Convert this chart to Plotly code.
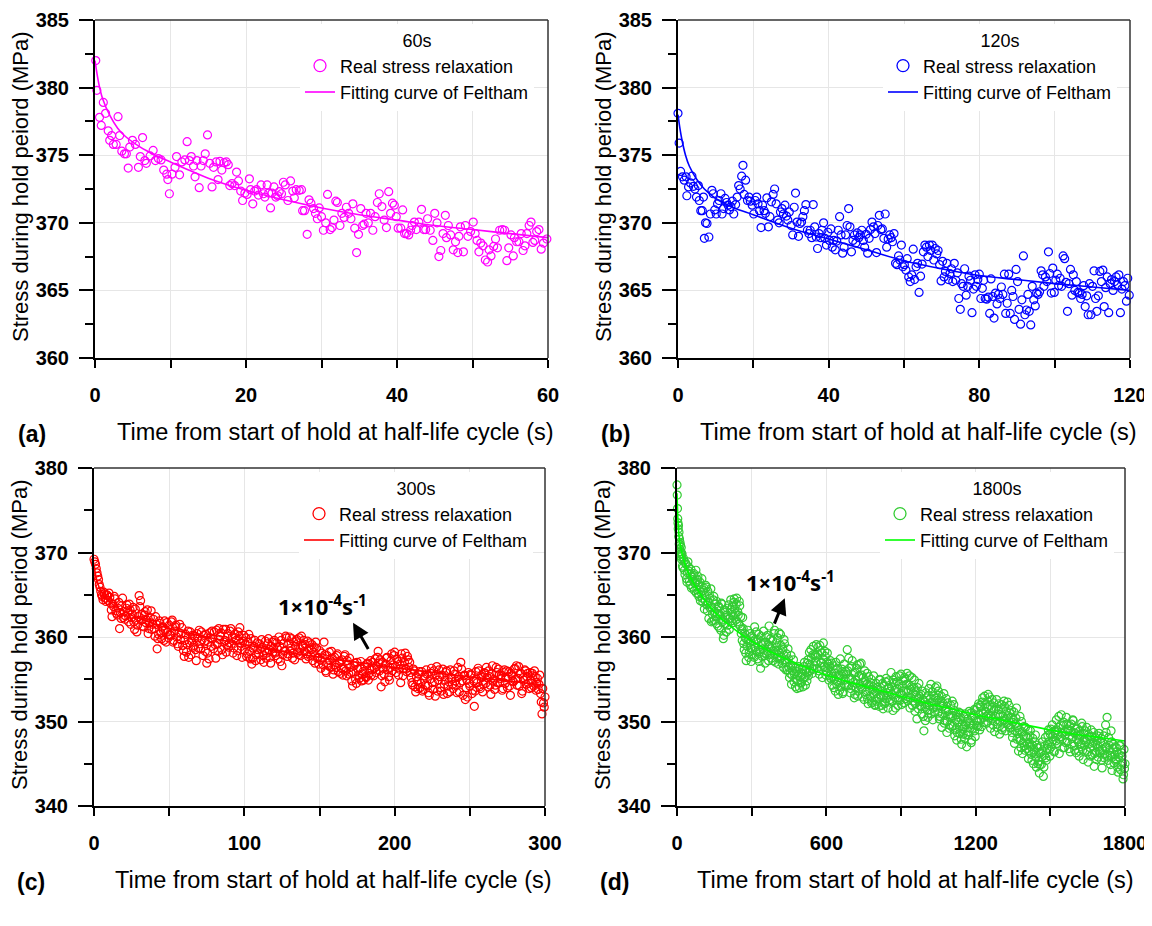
import plotly.graph_objects as go

# page is 1152x926; the html body has an 8 px margin, so the figure is 8 px smaller
PAGE_W, PAGE_H, OFF = 1152, 926, 8
W, H = PAGE_W - OFF, PAGE_H - OFF

# ---------------- data ----------------
# (a) 60 s hold
ta = [0.1,0.24,0.6,0.83,1.1,1.4,1.75,1.95,2.2,2.43,2.8,3.05,3.26,3.55,3.9,4.15,4.4,4.6,4.96,5.35,5.75,6.0,6.3,6.6,6.8,7.3,7.7,8.0,8.4,8.75,9.1,9.5,9.65,9.85,10.2,10.6,10.8,11.2,11.5,11.9,12.2,12.5,12.75,13.05,13.25,13.5,13.8,14.05,14.35,14.6,14.9,15.2,15.5,15.7,16.05,16.3,16.55,16.8,17.1,17.4,17.65,17.85,18.15,18.5,18.75,19.0,19.3,19.55,19.85,20.15,20.45,20.6,20.9,21.15,21.4,21.65,22.0,22.3,22.5,22.8,23.0,23.25,23.45,23.7,23.95,24.2,24.4,24.7,24.95,25.2,25.55,25.9,26.2,26.4,26.65,27.05,27.35,27.5,27.75,28.1,28.35,28.6,28.95,29.2,29.45,29.7,30.0,30.25,30.55,30.8,31.15,31.4,31.65,31.9,32.1,32.45,32.7,33.0,33.3,33.6,33.9,34.15,34.4,34.65,34.9,35.2,35.45,35.65,35.9,36.2,36.5,36.8,37.1,37.4,37.65,38.0,38.3,38.6,38.9,39.15,39.4,39.65,39.9,40.15,40.5,40.75,41.0,41.25,41.55,41.8,42.0,42.3,42.55,42.9,43.25,43.55,43.8,44.05,44.4,44.75,45.0,45.3,45.55,45.8,46.1,46.4,46.55,46.8,47.1,47.45,47.75,48.05,48.2,48.4,48.8,49.05,49.4,49.75,50.1,50.35,50.6,50.85,51.1,51.4,51.7,52.0,52.2,52.45,52.8,53.05,53.3,53.6,53.95,54.25,54.55,54.8,55.1,55.4,55.55,55.85,56.15,56.45,56.7,56.95,57.2,57.5,57.75,58.0,58.25,58.5,58.8,59.1,59.4,59.85]
sa = [382.0,379.8,377.8,377.2,378.9,378.1,376.8,376.1,376.45,375.8,375.8,377.85,376.45,375.3,375.1,375.1,374.05,375.6,376.1,375.8,374.1,374.9,376.3,374.6,374.4,374.95,375.35,374.6,374.75,374.65,373.9,373.6,373.2,372.15,373.6,374.1,374.9,373.55,374.5,374.65,376.0,374.6,374.9,374.2,373.4,374.6,372.6,374.2,374.6,375.1,376.5,374.4,372.65,374.1,374.5,373.2,374.55,373.9,374.45,374.5,374.3,372.75,372.9,372.75,373.75,373.1,372.35,371.65,372.2,372.1,373.25,372.45,371.4,372.35,372.45,372.05,372.8,372.15,371.9,372.8,372.2,371.1,372.2,372.65,371.9,372.0,372.3,372.15,373.0,372.8,371.65,373.1,372.35,371.85,372.45,372.4,372.45,370.9,370.9,369.15,371.7,371.45,371.05,370.7,370.3,371.1,370.45,369.45,370.0,372.1,369.5,369.65,370.2,371.6,371.5,369.8,370.7,370.4,371.15,370.7,370.3,371.4,369.6,367.8,369.15,371.05,369.8,369.9,370.7,370.0,370.7,369.45,370.45,371.5,372.15,371.2,370.2,369.65,372.3,370.7,371.45,371.3,370.45,369.6,369.6,370.95,369.2,369.2,369.1,369.45,369.8,370.05,369.5,370.05,371.0,369.5,369.5,370.3,369.45,368.7,370.7,370.0,367.5,367.95,369.2,370.55,368.9,369.8,369.1,368.0,368.6,367.8,369.0,369.7,367.85,369.8,369.0,369.35,370.05,369.2,368.7,367.85,368.5,368.3,367.25,367.1,368.0,367.55,368.25,368.8,368.15,369.45,369.5,369.45,367.2,368.15,369.1,367.55,368.9,368.6,368.6,369.2,367.95,368.3,369.2,369.8,370.05,368.55,368.7,369.35,369.5,368.05,368.5,368.8]
fit_ta = [0, 0.5, 1, 2, 3, 4, 6, 8, 10, 12, 15, 20, 25, 30, 35, 40, 45, 50, 55, 60]
fit_sa = [382.0, 380.3, 379.2, 377.9, 377.0, 376.4, 375.6, 375.0, 374.5, 374.0, 373.3, 372.4, 371.7, 371.1, 370.6, 370.2, 369.8, 369.5, 369.2, 368.9]

# (b) 120 s hold
tb = [0,0.3,0.7,1.2,1.65,2.15,2.35,2.8,3.3,3.7,4.1,4.5,4.9,5.4,5.65,6.05,6.45,6.75,7.0,7.3,7.7,8.2,8.6,9.0,9.35,9.75,10.15,10.5,10.9,11.4,11.7,12.1,12.5,12.9,13.3,13.65,14.05,14.45,14.8,15.3,15.7,16.1,16.5,16.9,17.25,17.55,17.95,18.45,18.85,19.2,19.7,20.1,20.5,20.9,21.25,21.65,22.05,22.45,22.85,23.2,23.6,24.0,24.4,24.8,25.25,25.65,26.05,26.45,26.85,27.2,27.6,28.0,28.4,28.8,29.15,29.55,30.05,30.45,30.85,31.2,31.6,32.0,32.4,32.8,33.15,33.55,33.95,34.35,34.75,35.1,35.5,35.9,36.3,36.7,37.05,37.45,37.85,38.25,38.65,39.0,39.4,39.8,40.2,40.6,40.95,41.35,41.75,42.15,42.55,42.9,43.3,43.7,44.1,44.5,44.9,45.3,45.65,46.05,46.45,46.85,47.2,47.6,48.0,48.4,48.8,49.2,49.55,49.95,50.35,50.75,51.1,51.5,51.9,52.3,52.7,53.05,53.45,53.85,54.25,54.65,55.0,55.4,55.8,56.2,56.6,56.95,57.35,57.75,58.15,58.55,58.9,59.3,59.7,60.1,60.5,60.85,61.25,61.65,62.05,62.45,62.8,63.2,63.6,64.0,64.4,64.8,65.15,65.55,65.95,66.35,66.75,67.1,67.5,67.9,68.3,68.7,69.05,69.45,69.85,70.25,70.65,71.0,71.4,71.8,72.2,72.6,72.95,73.35,73.75,74.15,74.55,74.95,75.3,75.7,76.1,76.5,76.9,77.25,77.65,78.05,78.45,78.85,79.2,79.6,80.0,80.4,80.8,81.15,81.55,81.95,82.35,82.75,83.1,83.5,83.9,84.3,84.7,85.05,85.45,85.85,86.25,86.65,87.0,87.4,87.8,88.2,88.6,88.95,89.35,89.75,90.15,90.55,90.95,91.3,91.7,92.1,92.5,92.9,93.25,93.65,94.05,94.45,94.85,95.2,95.6,96.0,96.4,96.8,97.15,97.55,97.95,98.35,98.7,99.1,99.5,99.9,100.3,100.7,101.05,101.45,101.85,102.25,102.65,103.0,103.4,103.8,104.2,104.6,104.95,105.35,105.75,106.15,106.55,106.9,107.3,107.7,108.1,108.5,108.9,109.25,109.65,110.05,110.45,110.85,111.2,111.6,112.0,112.4,112.8,113.15,113.55,113.95,114.35,114.75,115.1,115.5,115.9,116.3,116.7,117.05,117.45,117.85,118.25,118.65,119.05,119.4,119.8]
sb = [378.1,375.9,373.8,373.4,373.15,373.4,372.0,372.65,372.95,373.45,372.7,372.5,371.9,372.75,371.65,370.9,370.9,371.9,368.85,370.0,369.95,368.95,370.65,372.4,372.15,370.95,370.65,371.4,371.65,372.15,370.65,371.05,371.8,371.5,371.3,370.95,371.2,371.6,370.65,371.35,371.9,372.75,372.5,373.45,374.25,372.1,373.15,371.65,371.9,371.6,371.3,370.65,371.65,371.9,371.4,370.9,369.65,371.3,370.9,370.7,371.85,369.7,370.45,371.55,372.1,372.5,371.4,370.2,370.0,370.8,371.05,370.65,371.3,370.5,370.2,370.8,369.8,369.1,371.15,372.2,370.05,369.0,369.95,370.05,370.45,370.9,371.35,369.45,369.2,369.45,368.9,371.35,369.7,368.95,368.1,369.2,368.9,369.45,370.0,368.85,368.35,369.3,368.7,369.55,368.2,368.7,368.0,368.65,369.45,370.45,369.1,367.75,368.2,369.1,369.8,371.05,369.7,367.85,368.7,369.1,368.5,369.25,368.9,369.1,369.45,368.7,368.2,369.15,367.75,368.85,369.5,370.05,369.7,369.2,367.8,369.8,370.55,369.5,369.55,368.85,370.65,368.2,368.8,369.1,368.9,368.6,369.2,367.0,366.9,367.55,367.25,368.35,366.75,366.9,366.5,367.35,366.0,365.65,366.15,368.05,365.8,366.75,367.0,364.85,366.05,366.95,367.85,368.35,368.2,367.5,368.35,367.95,368.35,367.25,368.1,367.7,367.95,366.9,365.7,367.15,366.0,366.4,367.0,365.8,366.25,366.6,365.65,367.0,365.75,366.3,364.4,363.6,365.5,365.3,366.6,364.65,365.3,366.05,365.75,363.35,365.1,366.15,365.3,365.8,366.2,364.4,365.15,365.75,364.4,364.35,364.5,363.3,365.85,364.55,362.95,364.8,364.0,364.7,364.4,365.25,364.7,366.2,363.3,364.05,366.2,363.3,365.0,364.55,362.85,366.55,365.65,363.6,362.5,364.3,367.55,363.2,363.55,364.7,363.45,362.45,365.3,364.3,363.85,364.8,364.7,364.9,366.45,366.15,365.3,366.0,365.65,367.85,366.25,364.8,366.65,364.85,365.75,366.2,365.35,365.9,365.3,367.55,367.35,365.6,363.45,365.5,366.55,364.65,366.15,365.0,365.65,364.85,364.8,364.4,364.7,365.35,363.8,364.6,363.2,365.5,363.2,365.3,366.45,364.4,363.45,364.6,366.4,365.65,366.5,363.8,365.2,366.0,363.35,365.5,365.8,365.0,365.65,366.0,365.4,366.15,363.35,365.1,365.65,365.35,364.2,365.9,364.65]
fit_tb = [0, 0.5, 1, 2, 3, 5, 7, 10, 15, 20, 30, 40, 50, 60, 70, 80, 90, 100, 110, 120]
fit_sb = [378.0, 377.0, 376.2, 375.0, 374.2, 373.2, 372.5, 371.8, 371.1, 370.6, 369.6, 368.8, 368.0, 367.2, 366.6, 366.1, 365.8, 365.5, 365.25, 365.0]

# (c) 300 s hold: readings on whole seconds and on half seconds
tc = list(range(0, 301))
sc = [369.2,368.6,367.6,366.8,365.9,365.0,364.4,365.1,364.2,364.9,
      365.2,364.0,362.4,363.6,364.5,362.8,363.4,361.0,362.2,364.6,
      363.0,362.5,363.8,361.8,363.2,362.3,363.5,360.9,362.0,361.4,
      364.9,364.3,362.7,361.2,363.0,362.0,360.4,361.7,363.1,361.5,
      361.0,362.4,358.6,360.3,361.6,359.8,360.8,361.9,359.4,360.6,
      361.4,360.2,362.0,359.6,361.2,360.0,358.9,361.5,360.4,359.0,
      357.7,360.3,359.1,357.6,360.6,359.5,358.8,360.1,357.2,359.9,
      360.8,358.6,359.7,360.2,358.3,356.9,359.4,360.5,358.9,359.8,
      360.6,357.5,359.2,361.0,360.1,358.5,360.9,359.6,358.2,360.4,
      359.3,361.0,360.0,358.7,359.9,357.8,360.6,361.1,358.9,359.5,
      358.4,359.9,358.0,360.3,357.4,356.8,358.7,359.6,357.9,358.5,
      359.2,357.3,358.8,357.0,359.5,358.1,359.8,357.6,358.9,358.2,
      359.6,357.8,358.6,360.0,357.1,356.6,359.2,358.4,359.9,358.0,
      360.0,358.7,357.5,359.4,358.9,359.7,357.9,358.6,360.1,359.0,
      358.3,357.4,359.5,358.6,357.8,359.1,358.2,356.9,358.7,357.6,
      358.4,356.3,357.5,359.4,356.0,357.8,356.6,357.2,358.3,355.6,
      357.6,356.4,358.0,356.9,355.7,357.3,356.2,357.9,355.4,356.8,
      357.5,355.8,354.2,356.6,355.0,357.0,355.5,356.3,354.8,355.9,
      356.6,355.2,356.9,355.7,357.2,356.1,355.4,357.4,356.5,358.3,
      356.0,354.1,357.0,355.6,356.8,357.6,355.3,356.4,358.0,356.7,
      358.2,355.8,357.1,356.2,354.6,357.5,356.3,358.1,355.9,357.3,
      357.0,355.2,354.3,356.0,353.5,354.8,355.6,354.0,355.9,353.8,
      355.4,356.1,354.2,353.1,355.7,354.6,356.0,353.0,356.5,354.9,
      355.3,353.6,356.2,354.4,355.8,353.3,354.7,356.1,355.0,353.9,
      355.6,354.3,356.4,353.5,357.0,354.8,355.4,352.6,354.9,355.8,
      354.2,355.5,353.7,351.8,355.9,354.6,356.0,353.9,355.2,354.4,
      355.7,356.4,354.1,355.3,353.2,356.6,355.0,354.3,355.8,356.2,
      354.6,355.5,353.9,356.1,355.2,354.0,355.9,353.1,355.4,354.7,
      356.3,356.6,355.1,354.2,355.7,353.6,354.9,356.0,355.3,354.5,
      355.8,354.0,355.4,356.0,353.7,355.1,354.4,353.3,350.9,352.2,
      352.9]
tc2 = [i + 0.5 for i in range(0, 300)]
sc2 = [368.9,368.1,367.2,366.2,365.4,364.8,365.3,364.6,365.0,364.3,
       364.7,363.2,363.9,364.8,363.1,362.6,364.1,362.9,363.7,362.3,
       362.1,363.4,362.8,363.9,361.5,362.7,361.8,363.3,360.6,362.4,
       363.6,362.0,361.3,362.6,361.7,363.2,361.0,362.3,360.9,362.1,
       360.1,361.5,359.8,361.9,360.5,361.2,359.6,360.9,361.7,359.9,
       360.3,361.8,359.4,360.7,361.4,359.2,360.5,359.7,361.1,358.4,
       359.6,358.2,360.7,359.3,357.9,360.2,359.0,358.5,360.4,358.7,
       359.2,360.6,357.8,359.5,360.3,358.1,357.4,359.9,360.7,358.6,
       359.1,360.8,358.3,359.7,360.5,357.9,359.4,360.9,359.0,358.8,
       360.7,359.2,358.1,360.3,359.6,358.4,360.1,359.3,357.6,360.2,
       359.1,357.7,359.4,358.3,359.8,357.5,358.9,357.2,359.3,358.0,
       358.6,359.7,357.8,358.4,357.5,359.2,358.5,356.9,359.4,358.7,
       358.1,359.3,357.4,358.9,359.6,357.9,358.3,360.1,357.7,359.2,
       358.4,359.8,358.1,357.3,359.5,358.2,359.9,357.8,358.9,359.6,
       359.1,358.0,357.7,359.3,358.5,357.2,358.8,359.4,357.5,356.8,
       357.3,358.1,356.7,357.9,355.8,356.9,358.2,356.4,357.5,356.1,
       356.7,357.8,355.9,357.1,356.3,355.5,357.7,356.0,357.2,355.6,
       356.4,354.8,355.9,356.9,354.5,356.2,355.1,357.1,355.6,354.9,
       355.3,356.8,354.9,356.2,355.5,357.0,356.3,355.8,357.6,356.9,
       357.3,355.4,356.3,354.7,357.5,356.1,354.9,357.2,356.0,357.8,
       356.5,357.4,355.5,356.8,358.0,355.4,357.0,356.2,357.7,356.4,
       355.8,354.6,356.2,354.1,355.3,353.9,355.9,354.5,353.6,355.0,
       354.3,355.6,353.4,355.0,356.3,353.8,354.7,355.5,353.6,356.1,
       354.0,355.5,353.2,354.9,356.0,354.2,353.5,355.2,354.4,356.0,
       354.8,353.4,355.3,354.6,356.2,353.1,355.5,354.0,352.9,354.5,
       355.6,353.3,354.8,353.6,355.0,356.3,354.1,355.4,353.5,355.8,
       354.5,355.2,356.0,354.3,355.6,354.8,353.8,356.4,354.6,355.5,
       355.1,353.7,355.8,354.5,356.0,355.3,354.2,355.7,354.8,356.2,
       355.0,354.3,356.5,355.6,353.3,355.2,356.1,354.4,355.7,353.9,
       354.9,355.7,354.2,355.3,354.6,353.8,355.5,352.3,353.9,351.7]
fit_tc = [0, 2, 5, 10, 20, 30, 50, 75, 100, 125, 150, 175, 200, 225, 250, 275, 300]
fit_sc = [368.5, 366.6, 365.3, 364.2, 363.0, 362.2, 361.0, 360.0, 359.1, 358.3, 357.6, 357.0, 356.4, 355.8, 355.3, 354.8, 354.3]

# (d) 1800 s hold: first 20 s every second, then two interleaved 4 s sets
td = list(range(0, 20)) + list(range(20, 1801, 4))
sd = [378.0,376.8,375.2,374.0,373.5,372.8,373.2,371.9,372.4,371.0,
      371.6,370.4,371.2,369.8,370.9,370.1,369.5,370.6,369.2,369.9,
      369.8,368.2,369.0,367.4,368.6,366.5,368.9,367.8,366.2,368.0,367.1,365.9,367.5,366.4,367.9,
      365.6,367.2,364.8,366.5,365.3,366.9,364.1,365.8,364.9,366.1,363.8,365.4,362.2,364.6,365.7,
      363.5,361.9,364.8,363.0,362.4,364.2,361.3,363.6,362.7,360.8,363.9,362.1,360.2,362.9,361.6,
      362.6,361.4,363.8,362.2,364.4,362.9,361.7,364.1,363.3,362.0,364.6,363.0,361.5,363.7,362.4,
      360.9,362.3,359.2,360.4,358.1,359.7,360.8,357.6,359.3,358.7,360.1,357.9,359.5,361.2,358.4,
      359.6,357.4,360.3,358.2,356.3,359.1,358.6,360.7,357.8,359.4,358.0,360.2,357.2,358.9,359.8,
      357.5,359.6,358.3,360.8,357.0,358.8,359.9,356.8,358.1,360.3,357.6,358.7,356.4,359.2,357.3,
      358.0,356.1,357.4,355.2,356.7,354.4,356.0,357.3,355.6,354.1,355.9,354.8,356.5,354.0,355.3,
      354.6,356.2,355.1,357.0,354.3,355.8,356.9,355.4,358.2,356.0,357.5,355.7,358.9,356.6,357.8,
      359.1,356.3,357.9,355.6,358.4,357.0,355.2,359.3,356.5,357.7,355.9,358.1,356.8,355.4,357.2,
      355.8,354.3,356.6,355.0,353.6,356.2,354.7,353.2,355.5,357.4,354.1,355.9,353.5,356.8,354.9,
      355.6,358.5,354.2,356.3,353.4,355.1,357.2,354.6,352.8,355.8,354.0,356.7,353.7,355.3,354.4,
      356.9,353.9,355.2,352.6,354.8,353.5,355.7,352.1,354.3,353.0,355.0,352.4,354.1,353.3,351.9,
      354.5,352.7,353.8,351.8,354.9,352.9,353.6,351.5,354.2,352.3,355.1,353.4,351.6,354.0,352.6,
      355.8,353.2,351.3,354.6,352.8,355.3,353.9,351.9,354.4,352.5,355.6,353.1,354.8,352.2,355.0,
      353.6,355.7,352.9,354.3,351.6,353.8,355.2,352.4,354.0,351.2,353.5,350.3,352.7,354.5,351.9,
      353.2,350.9,352.6,348.9,351.7,353.4,352.0,350.5,353.9,351.4,354.4,352.3,350.2,353.0,351.1,
      352.8,354.2,351.0,353.1,350.6,352.4,349.3,351.8,353.3,350.1,351.5,348.7,352.2,350.8,349.6,
      351.9,349.4,350.7,352.0,348.3,350.2,347.8,349.9,351.1,348.6,350.4,347.3,349.1,350.6,348.0,
      349.6,347.0,350.3,348.4,349.8,351.0,347.8,349.2,350.7,348.9,351.3,349.5,350.1,352.1,349.0,
      351.7,349.4,352.8,350.5,353.0,351.2,349.8,352.4,350.9,352.9,349.2,351.5,350.3,352.2,348.8,
      350.6,352.6,349.7,351.4,348.5,350.8,352.0,349.3,350.1,351.8,348.9,350.4,352.3,349.6,351.0,
      349.2,351.3,348.1,350.2,347.4,349.7,351.6,348.6,346.5,349.0,347.7,350.0,346.2,348.3,347.1,
      349.3,346.8,348.0,345.6,347.5,348.9,346.1,347.2,345.0,346.6,348.4,344.6,346.9,345.3,343.9,
      346.3,344.9,347.6,343.5,346.0,348.1,345.4,347.3,349.0,346.7,348.5,347.0,349.6,347.8,346.4,
      348.7,350.2,347.4,349.3,346.2,348.2,350.8,347.9,349.5,346.9,348.8,350.5,347.6,349.1,348.3,
      346.4,349.7,348.0,350.1,347.1,348.6,346.3,349.2,347.6,345.9,348.4,347.0,349.4,345.5,347.8,
      348.9,346.6,347.9,345.2,348.2,346.9,349.0,346.1,347.5,344.7,348.1,346.4,347.7,345.8,348.6,
      346.3,348.0,344.5,347.4,345.7,346.9,348.7,350.5,345.4,347.2,346.0,348.9,344.2,346.8,345.1,
      347.0,345.3,346.4,344.0,346.1,347.2,344.8,345.9,343.2,346.7,345.0]
td2 = list(range(22, 1799, 4))
sd2 = [368.4,369.3,367.9,368.8,366.9,367.6,368.3,366.6,367.4,365.8,366.8,367.3,365.5,366.3,365.2,
       366.8,365.1,366.2,364.3,365.9,364.6,365.5,363.3,364.3,365.9,363.1,364.0,365.0,363.4,361.8,
       362.7,364.4,362.0,363.9,361.6,362.8,363.5,361.1,362.5,364.0,361.8,359.8,363.2,362.3,360.6,
       363.4,362.1,360.9,363.2,361.9,363.6,362.5,364.5,362.8,363.9,361.8,362.6,364.2,361.3,360.4,
       359.6,361.0,358.5,359.9,357.2,358.9,359.6,358.2,360.4,357.1,358.6,359.9,357.6,358.8,360.6,
       358.2,359.7,357.1,358.5,360.1,357.7,359.3,358.1,356.9,360.0,358.3,359.1,361.3,357.9,358.6,
       358.9,357.2,360.4,358.0,359.3,357.6,358.4,360.5,357.4,359.0,356.9,358.5,359.7,357.0,356.1,
       357.0,358.6,356.4,355.7,357.8,355.5,356.6,354.7,356.3,355.0,353.9,355.4,356.2,354.6,355.8,
       355.6,354.1,356.5,355.3,356.1,354.8,357.3,355.9,356.8,358.5,356.3,357.9,356.2,358.0,357.1,
       357.6,358.8,356.0,359.0,356.9,358.1,357.4,356.5,358.3,355.5,357.0,356.3,354.9,356.5,355.1,
       356.9,355.3,354.0,355.7,357.0,354.4,356.3,355.2,353.7,354.8,356.2,353.3,355.6,354.3,355.9,
       354.3,356.0,357.5,355.0,353.9,356.5,354.2,355.7,353.2,354.9,356.3,353.0,355.4,356.8,354.1,
       355.5,352.9,354.6,356.0,353.2,354.4,352.7,355.3,353.7,354.6,352.2,353.8,355.4,352.0,353.5,
       352.4,354.0,352.9,355.0,353.1,351.9,354.5,353.0,352.1,354.7,352.7,353.9,354.8,352.3,353.6,
       354.1,352.4,354.9,353.7,351.6,353.4,354.7,352.6,355.4,353.3,352.0,354.2,353.6,355.2,352.7,
       354.4,352.5,353.7,355.4,352.8,354.1,351.9,353.3,354.9,352.1,352.9,354.0,351.5,353.0,352.4,
       351.8,353.6,350.6,352.3,350.1,352.8,351.3,353.1,351.9,352.7,350.9,353.5,351.6,352.2,354.0,
       351.7,352.5,353.6,350.3,351.9,353.0,350.9,352.1,349.8,351.4,352.7,350.0,351.2,349.2,350.5,
       350.6,352.4,349.5,351.3,349.0,350.8,348.7,350.5,349.3,351.0,347.9,349.7,348.5,349.4,350.9,
       348.4,350.0,348.8,351.2,349.2,347.5,350.4,349.6,351.4,348.2,350.1,351.7,349.4,350.8,351.9,
       350.2,352.3,351.0,349.9,352.0,350.6,351.7,353.2,350.4,351.9,350.7,352.6,349.6,351.3,350.0,
       351.6,349.3,350.9,352.1,350.0,351.5,349.0,350.6,352.4,350.2,351.2,349.8,350.7,351.9,349.3,
       350.5,348.7,349.9,351.1,348.9,350.4,347.9,349.3,348.0,350.6,346.9,348.8,347.5,349.4,346.6,
       348.2,347.3,349.0,346.5,348.3,347.0,345.4,348.0,346.4,347.6,345.8,347.2,345.0,346.3,344.9,
       347.1,345.8,346.5,344.6,347.1,345.7,346.8,348.4,347.6,345.9,349.1,347.6,348.2,346.5,348.9,
       347.7,349.0,348.4,350.6,347.9,349.6,348.6,346.9,349.9,348.4,347.5,349.7,348.9,346.8,349.5,
       348.9,347.3,350.2,348.7,346.6,349.1,347.9,348.3,346.5,348.9,347.3,349.8,346.6,348.6,347.2,
       347.6,349.3,346.4,348.5,347.4,345.9,348.2,347.1,348.7,346.2,347.3,345.5,348.3,347.0,346.5,
       347.6,345.4,346.7,348.3,346.1,349.6,347.0,345.9,348.1,346.6,344.9,347.6,345.8,347.3,346.1,
       345.6,346.9,344.6,345.8,347.1,344.3,346.3,345.1,343.7,344.4]
fit_td = [0, 5, 10, 25, 50, 100, 150, 200, 300, 400, 500, 600, 700, 800, 900, 1000, 1100, 1200, 1300, 1400, 1500, 1600, 1700, 1800]
fit_sd = [377.0, 373.2, 371.5, 369.3, 367.3, 364.8, 363.0, 361.6, 359.5, 357.9, 356.6, 355.5, 354.6, 353.8, 353.0, 352.2, 351.5, 350.8, 350.2, 349.6, 349.0, 348.5, 348.1, 347.7]

hold_labels = ["60s", "120s", "300s", "1800s"]
panel_tags = ["(a)", "(b)", "(c)", "(d)"]
y_titles = ["Stress during hold peiord (MPa)", "Stress during hold period (MPa)",
            "Stress during hold period (MPa)", "Stress during hold period (MPa)"]
x_title = "Time from start of hold at half-life cycle (s)"
legend_names = ["Real stress relaxation", "Fitting curve of Feltham"]
rate_label = "1×10<sup>-4</sup>s<sup>-1</sup>"

x_ranges = [[0, 60], [0, 120], [0, 300], [0, 1800]]
x_major = [20, 40, 100, 600]
x_minor = [10, 20, 50, 300]
y_ranges = [[360, 385], [360, 385], [340, 380], [340, 380]]
y_major = [5, 5, 10, 10]
y_minor = [2.5, 2.5, 5, 5]

marker_colors = ["#FF00FF", "#0000FF", "#FF0000", "#33CC33"]
line_colors = ["#FF00FF", "#0000FF", "#FF0000", "#00FF00"]

# ---------------- layout geometry (page pixels) ----------------
boxes = [  # left, right, top, bottom
    (95, 548, 20, 358),
    (678, 1130, 20, 358),
    (94, 545, 468, 806),
    (677, 1125, 468, 806),
]
legend_left = [300, 883, 299, 880]

FONT = "Liberation Sans, Arial, sans-serif"

def fx(p):
    return (p - OFF) / W

def fy(p):
    return 1 - (p - OFF) / H

fig = go.Figure()
series = [(ta, sa, fit_ta, fit_sa), (tb, sb, fit_tb, fit_sb),
          (tc + tc2, sc + sc2, fit_tc, fit_sc), (td + td2, sd + sd2, fit_td, fit_sd)]

layout = dict(width=W, height=H, margin=dict(l=0, r=0, t=0, b=0, autoexpand=False),
              paper_bgcolor="white", plot_bgcolor="white",
              font=dict(family=FONT, color="black"), shapes=[], annotations=[])

for i, (xs, ys, fxs, fys) in enumerate(series):
    n = "" if i == 0 else str(i + 1)
    leg = "legend" + n
    xa, ya = "x" + n, "y" + n
    marker = dict(symbol="circle-open", size=8, color=marker_colors[i],
                  line=dict(width=1.2, color=marker_colors[i]))
    fig.add_trace(go.Scatter(
        x=xs, y=ys, mode="markers", name=legend_names[0], xaxis=xa, yaxis=ya,
        showlegend=False, cliponaxis=False, marker=marker))
    # legend entry for the markers, drawn a little larger as in the source
    fig.add_trace(go.Scatter(
        x=[None], y=[None], mode="markers", name=legend_names[0], xaxis=xa, yaxis=ya,
        legend=leg, marker=dict(symbol="circle-open", size=12, color=marker_colors[i],
                                line=dict(width=1.3, color=marker_colors[i]))))
    fig.add_trace(go.Scatter(
        x=fxs, y=fys, mode="lines", name=legend_names[1], xaxis=xa, yaxis=ya,
        legend=leg, line=dict(color=line_colors[i], width=1.6, shape="spline")))

    l, r, t, b = boxes[i]
    layout["xaxis" + n] = dict(
        domain=[fx(l), fx(r)], anchor=ya, range=x_ranges[i], automargin=False,
        dtick=x_major[i], tick0=0, ticks="outside", ticklen=8, tickwidth=1.5,
        tickcolor="black", ticklabelstandoff=10,
        showline=True, linewidth=2, linecolor="black", zeroline=False,
        showgrid=True, gridcolor="#e6e6e6", gridwidth=1,
        tickfont=dict(family=FONT, size=20, color="black", weight="bold"),
        minor=dict(dtick=x_minor[i], tick0=0, ticks="outside", ticklen=8,
                   tickwidth=1.5, tickcolor="black", showgrid=True,
                   gridcolor="#e6e6e6", gridwidth=1))
    layout["yaxis" + n] = dict(
        domain=[fy(b), fy(t)], anchor=xa, range=y_ranges[i], automargin=False,
        dtick=y_major[i], tick0=0, ticks="outside", ticklen=14, tickwidth=1.5,
        tickcolor="black", ticklabelstandoff=6,
        showline=True, linewidth=2, linecolor="black", zeroline=False,
        showgrid=True, gridcolor="#e6e6e6", gridwidth=1,
        tickfont=dict(family=FONT, size=20, color="black", weight="bold"),
        minor=dict(dtick=y_minor[i], tick0=0, ticks="outside", ticklen=8,
                   tickwidth=1.5, tickcolor="black", showgrid=False))
    layout[leg] = dict(
        x=fx(legend_left[i]), y=fy(t + 4), xanchor="left", yanchor="top",
        bgcolor="white", borderwidth=0, tracegroupgap=0,
        font=dict(family=FONT, size=18, color="black"),
        title=dict(text=hold_labels[i], side="top center",
                   font=dict(family=FONT, size=18, color="black")))
    # top and right frame
    layout["shapes"].append(dict(type="line", xref=xa + " domain", yref=ya + " domain",
                                 x0=0, x1=1, y0=1, y1=1, line=dict(color="#333", width=1.5)))
    layout["shapes"].append(dict(type="line", xref=xa + " domain", yref=ya + " domain",
                                 x0=1, x1=1, y0=0, y1=1, line=dict(color="#333", width=1.5)))
    # axis titles and panel tags
    layout["annotations"].append(dict(
        text=x_title, xref="paper", yref="paper", x=fx((l + r) / 2 + 14), y=fy(b + 74),
        xanchor="center", yanchor="middle", showarrow=False,
        font=dict(family=FONT, size=23.5, color="black")))
    layout["annotations"].append(dict(
        text=y_titles[i], xref="paper", yref="paper", x=fx(l - 75), y=fy((t + b) / 2 - 2),
        xanchor="center", yanchor="middle", textangle=-90, showarrow=False,
        font=dict(family=FONT, size=22, color="black")))
    layout["annotations"].append(dict(
        text=panel_tags[i], xref="paper", yref="paper", x=fx(l - 63), y=fy(b + 76),
        xanchor="center", yanchor="middle", showarrow=False,
        font=dict(family=FONT, size=23, color="black", weight="bold")))

# strain-rate annotations in (c) and (d)
arrow_specs = [  # axis suffix, text x, text y, head x, head y, tail x, tail y
    ("3", 152, 363.7, 172.3, 361.7, 183, 358.4),
    ("4", 458, 366.6, 433, 364.6, 389, 361.4),
]
for sfx, tx, ty, hx, hy, axx, ayy in arrow_specs:
    layout["annotations"].append(dict(
        text=rate_label, xref="x" + sfx, yref="y" + sfx, x=tx, y=ty, showarrow=False,
        font=dict(family="Noto Sans, DejaVu Sans", size=22, color="black", weight="bold")))
    layout["annotations"].append(dict(
        text="", xref="x" + sfx, yref="y" + sfx, x=hx, y=hy,
        axref="x" + sfx, ayref="y" + sfx, ax=axx, ay=ayy, showarrow=True,
        arrowhead=2, arrowsize=1.1, arrowwidth=3, arrowcolor="black"))

fig.update_layout(**layout)
fig.write_html("out.html")
